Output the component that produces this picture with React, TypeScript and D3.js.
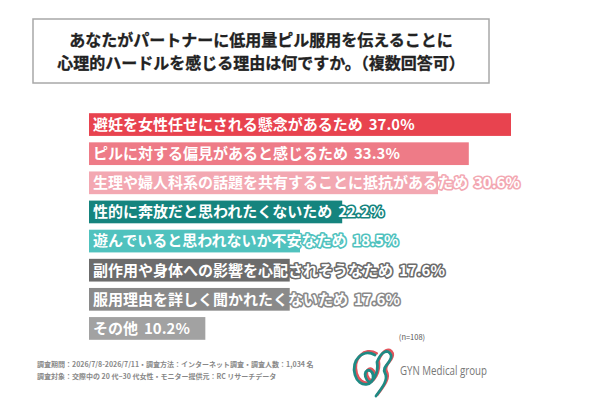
import React from "react";
import * as d3 from "d3";

// Survey answers (n=108), multiple choice
const categories = [
  "避妊を女性任せにされる懸念があるため",
  "ピルに対する偏見があると感じるため",
  "生理や婦人科系の話題を共有することに抵抗があるため",
  "性的に奔放だと思われたくないため",
  "遊んでいると思われないか不安なため",
  "副作用や身体への影響を心配されそうなため",
  "服用理由を詳しく聞かれたくないため",
  "その他",
];
const values = [37.0, 33.3, 30.6, 22.2, 18.5, 17.6, 17.6, 10.2];
const barColors = [
  "#e8434f",
  "#ee7b87",
  "#f3a8b2",
  "#15847e",
  "#50c2be",
  "#6c6c6c",
  "#8a8a8a",
  "#a2a2a2",
];

const titleLines = [
  "あなたがパートナーに低用量ピル服用を伝えることに",
  "心理的ハードルを感じる理由は何ですか。（複数回答可）",
];
const footnotes = [
  "調査期間：2026/7/8-2026/7/11・調査方法：インターネット調査・調査人数：1,034 名",
  "調査対象：交際中の 20 代~30 代女性・モニター提供元：RC リサーチデータ",
];
const sampleNote = "(n=108)";
const brandName = "GYN Medical group";

const W = 600;
const H = 400;
const font = "'Noto Sans CJK JP', 'Noto Sans', sans-serif";

export default function App() {
  const x = d3.scaleLinear().domain([0, 37]).range([89, 511]);
  const y = d3
    .scaleBand<string>()
    .domain(categories)
    .range([110, 343])
    .paddingInner(0.22)
    .paddingOuter(0.11);

  const logoPath =
    "M375,355 C363,348 351,360 355,375 C359,389 375,386 373,375 C371,366 361,371 367,380 C372,387 379,372 377,362 C381,352 388,348 391,355 C393,362 381,366 385,373 C389,380 381,389 376,396";

  return (
    <svg
      width={W}
      height={H}
      style={{ position: "absolute", left: 0, top: 0, display: "block", background: "#fff" }}
      fontFamily={font}
    >
      <rect x={0} y={0} width={W} height={H} fill="#fff" />

      {/* title box */}
      <rect x={33} y={19} width={456} height={64} fill="#fff" stroke="#a8a8a8" strokeWidth={1.5} />
      {titleLines.map((t, i) => (
        <text
          key={t}
          x={261}
          y={46 + i * 23}
          textAnchor="middle"
          fontSize={16}
          fontWeight={700}
          fill="#222"
          stroke="#222"
          strokeWidth={0.3}
        >
          {t}
        </text>
      ))}

      {/* bars */}
      {categories.map((c, i) => {
        const y0 = y(c) ?? 0;
        const cy = y0 + y.bandwidth() / 2;
        return (
          <g key={c}>
            <rect
              x={x(0)}
              y={y0}
              width={x(values[i]) - x(0)}
              height={y.bandwidth()}
              fill={barColors[i]}
            />
            <text
              x={x(0) + 4}
              y={cy}
              dy="0.36em"
              fontSize={15}
              fontWeight={700}
              fill="#fff"
              stroke={barColors[i]}
              strokeWidth={3.2}
              strokeLinejoin="round"
              paintOrder="stroke"
            >
              {c}
              <tspan dx={6}>{values[i].toFixed(1)}%</tspan>
            </text>
          </g>
        );
      })}

      {/* sample size */}
      <text x={412} y={340} textAnchor="middle" fontSize={7.5} fill="#555">
        {sampleNote}
      </text>

      {/* footnotes */}
      {footnotes.map((t, i) => (
        <text key={t} x={37} y={367 + i * 12} fontSize={7} fontWeight={700} fill="#888">
          {t}
        </text>
      ))}

      {/* logo */}
      <g fill="none" strokeLinecap="round" strokeLinejoin="round" strokeWidth={2.8}>
        <path transform="translate(1.6,-1.6)" d={logoPath} stroke="#e2545c" />
        <path d={logoPath} stroke="#1f8a84" />
      </g>
      <text
        x={400}
        y={375}
        fontSize={13.5}
        fill="#777"
        fontFamily="'Open Sans', 'Noto Sans', sans-serif"
        textLength={87}
        lengthAdjust="spacingAndGlyphs"
      >
        {brandName}
      </text>
    </svg>
  );
}
